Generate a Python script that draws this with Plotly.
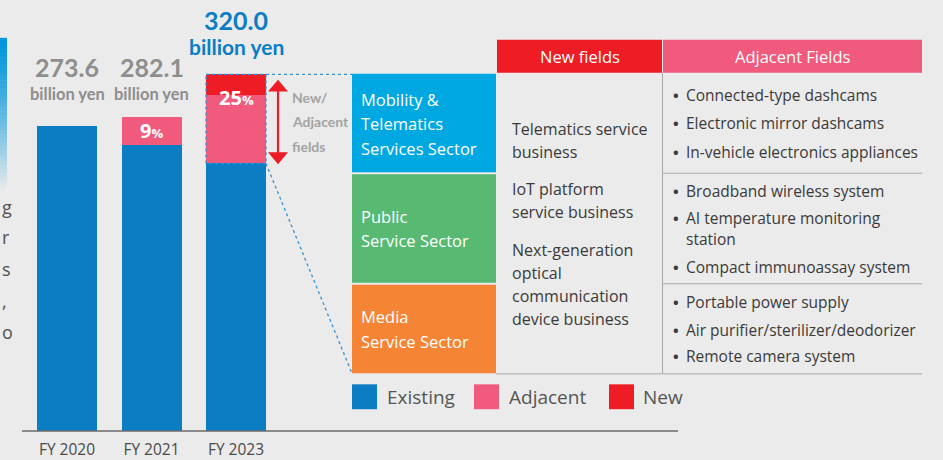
import plotly.graph_objects as go

# ---------------- data ----------------
years = ["FY 2020", "FY 2021", "FY 2023"]
existing = [273.6, 256.7, 240.0]
adjacent = [0.0, 25.4, 61.0]
new = [0.0, 0.0, 19.0]
totals = ["273.6", "282.1", "320.0"]
pct_labels = ["", "9", "25"]

sectors = [["Mobility &", "Telematics", "Services Sector"],
           ["Public", "Service Sector"],
           ["Media", "Service Sector"]]
new_fields = [["Telematics service", "business"],
              ["IoT platform", "service business"],
              ["Next-generation", "optical", "communication", "device business"]]
adjacent_fields = [["Connected-type dashcams", "Electronic mirror dashcams", "In-vehicle electronics appliances"],
                   ["Broadband wireless system", "AI temperature monitoring|station", "Compact immunoassay system"],
                   ["Portable power supply", "Air purifier/sterilizer/deodorizer", "Remote camera system"]]
legend_names = ["Existing", "Adjacent", "New"]

# ---------------- style ----------------
W, H = 943, 460
BG = "#ebebeb"
C_EX = "#0a7dc3"
C_ADJ = "#f05a7c"
C_NEW = "#ee1d25"
C_MOB = "#00a8e1"
C_PUB = "#58b973"
C_MED = "#f58535"
GREY = "#8e8e8e"
TXT = "#3a3a3a"
LINE = "#a8a8a8"
FONT = "Lato, sans-serif"
FONT2 = "Open Sans, sans-serif"

def px(x):
    return x / W

def py(y):
    return 1 - y / H

# axis geometry (pixels)
BASE_Y = 433.0
PX_PER_UNIT = 1.12
X0_PX, STEP_PX = 67.0, 84.5
BAR_W = 0.71

def dx2px(x):
    return X0_PX + x * STEP_PX

def dy2px(v):
    return BASE_Y - v * PX_PER_UNIT

xs = list(range(len(years)))
fig = go.Figure()
fig.add_bar(x=xs, y=existing, marker_color=C_EX, width=BAR_W, name=legend_names[0], marker_line_width=0)
fig.add_bar(x=xs, y=adjacent, marker_color=C_ADJ, width=BAR_W, name=legend_names[1], marker_line_width=0)
fig.add_bar(x=xs, y=new, marker_color=C_NEW, width=BAR_W, name=legend_names[2], marker_line_width=0)

shapes = []
ann = []

def text(x, y, s, size=16, color=TXT, xanchor="left", family=FONT2, xref="paper"):
    ann.append(dict(x=(x if xref != "paper" else px(x)), y=py(y), xref=xref, yref="paper", text=s,
                    showarrow=False, xanchor=xanchor, yanchor="middle",
                    font=dict(size=size, color=color, family=family)))

def rect(x0, y0, x1, y1, color):
    shapes.append(dict(type="rect", xref="paper", yref="paper", x0=px(x0), x1=px(x1),
                       y0=py(y1), y1=py(y0), fillcolor=color, line=dict(width=0), layer="below"))

def line(x0, y0, x1, y1, color=LINE, width=1, dash="solid"):
    shapes.append(dict(type="line", xref="paper", yref="paper", x0=px(x0), x1=px(x1),
                       y0=py(y0), y1=py(y1), line=dict(color=color, width=width, dash=dash)))

# left cropped gradient bar
n = 40
top, bot = 38, 193
for i in range(n):
    t = i / (n - 1)
    r = int(0 + (235 - 0) * t ** 1.3)
    g = int(150 + (235 - 150) * t ** 1.3)
    b = int(220 + (235 - 220) * t ** 1.3)
    rect(0, top + (bot - top) * i / n, 7, top + (bot - top) * (i + 1) / n + 0.5, f"rgb({r},{g},{b})")

# left cropped paragraph fragments
for ch, yy in zip(["g", "r", "s", ",", "o"], [208, 238, 270, 302, 333]):
    text(0, yy, ch, size=18, color="#505050", xanchor="left")

# baseline
line(22, BASE_Y, 678, BASE_Y, color="#6b6b6b", width=1.5)

# value labels
for i, t in enumerate(totals):
    if i < 2:
        text(i, 67, f"<b>{t}</b>", size=25, color=GREY, xanchor="center", family=FONT, xref="x")
        text(i, 94, "<b>billion yen</b>", size=16.5, color=GREY, xanchor="center", family=FONT, xref="x")
    else:
        text(i, 20, f"<b>{t}</b>", size=25, color=C_EX, xanchor="center", family=FONT, xref="x")
        text(i, 47, "<b>billion yen</b>", size=21, color=C_EX, xanchor="center", family=FONT, xref="x")

# percentage labels
for i, p in enumerate(pct_labels):
    if not p:
        continue
    if i == 1:
        yy = dy2px(existing[i] + adjacent[i] / 2)
    else:
        yy = dy2px(existing[i] + adjacent[i]) + 2
    text(i, yy, f"<b>{p}<span style='font-size:13px'>%</span></b>", size=20, color="white",
         xanchor="center", family=FONT2, xref="x")

# dotted outline of FY2023 new/adjacent part
bx0 = dx2px(2 - BAR_W / 2)
bx1 = dx2px(2 + BAR_W / 2)
by_top = dy2px(existing[2] + adjacent[2] + new[2])
by_bot = dy2px(existing[2])
DOT = "#3593d6"
for (a, b, c, d) in [(bx0, by_top, bx1, by_top), (bx1, by_top, bx1, by_bot),
                     (bx1, by_bot, bx0, by_bot), (bx0, by_bot, bx0, by_top)]:
    line(a, b, c, d, color=DOT, width=1.3, dash="dot")
line(bx1, by_top, 352, by_top, color=DOT, width=1.3, dash="dot")
line(bx1, by_bot, 352, 375, color=DOT, width=1.3, dash="dot")

# red double arrow
AX = 278
line(AX, 88, AX, 157, color=C_NEW, width=2.2)
shapes.append(dict(type="path", xref="paper", yref="paper",
                   path=f"M {px(AX)} {py(80)} L {px(AX-10)} {py(92)} L {px(AX+10)} {py(92)} Z",
                   fillcolor=C_NEW, line=dict(width=0)))
shapes.append(dict(type="path", xref="paper", yref="paper",
                   path=f"M {px(AX)} {py(165)} L {px(AX-10)} {py(153)} L {px(AX+10)} {py(153)} Z",
                   fillcolor=C_NEW, line=dict(width=0)))
for s, yy in zip(["<b>New/</b>", "<b>Adjacent</b>", "<b>fields</b>"], [98, 122, 147]):
    text(290, yy, s, size=14, color="#a3a3a3", family=FONT)

# sector boxes
box_rows = [(74, 173, C_MOB), (175, 284, C_PUB), (286, 375, C_MED)]
for (y0, y1, c) in box_rows:
    rect(352, y0, 496, y1, c)
sector_ys = [[100, 124, 149], [217, 242], [318, 343]]
for lines_, ys in zip(sectors, sector_ys):
    for s, yy in zip(lines_, ys):
        text(359, yy, s, size=16.5, color="white")

# table headers
rect(497, 40, 662, 73, C_NEW)
rect(663, 40, 922, 73, C_ADJ)
text(579.5, 57, "New fields", size=16.5, color="white", xanchor="center")
text(792.5, 57, "Adjacent Fields", size=16.5, color="white", xanchor="center")

# table lines
line(662.5, 73, 662.5, 375)
line(662, 174, 922, 174)
line(662, 285, 922, 285)
line(496, 375.5, 922, 375.5)

# new fields text
nf_ys = [[130, 153], [190, 213], [251, 274, 297, 320]]
for lines_, ys in zip(new_fields, nf_ys):
    for s, yy in zip(lines_, ys):
        text(510, yy, s, size=16)

# adjacent fields text
af_ys = [[95, 124, 153], [192, 219, 268], [303, 331, 358]]
for items, ys in zip(adjacent_fields, af_ys):
    for s, yy in zip(items, ys):
        parts = s.split("|")
        text(671, yy, "<b>•</b>", size=15)
        text(684, yy, parts[0], size=15.5)
        if len(parts) > 1:
            text(684, yy + 21, parts[1], size=15.5)

# manual legend
leg = [(352, C_EX, 385), (474, C_ADJ, 507), (609, C_NEW, 641)]
for (x0, c, tx), name in zip(leg, legend_names):
    rect(x0, 386, x0 + 25, 411, c)
    text(tx, 399, name, size=19, color="#555555")

fig.update_layout(
    width=W, height=H,
    margin=dict(l=0, r=0, t=0, b=0),
    paper_bgcolor=BG, plot_bgcolor=BG,
    barmode="stack", showlegend=False,
    shapes=shapes, annotations=ann,
    xaxis=dict(domain=[px(X0_PX - 0.5 * STEP_PX), px(X0_PX + 2.5 * STEP_PX)],
               range=[-0.5, 2.5], tickvals=xs, ticktext=years,
               showgrid=False, zeroline=False, showline=False, ticks="",
               tickfont=dict(size=15.5, color="#4a4a4a", family=FONT2), ticklabelstandoff=7),
    yaxis=dict(domain=[py(BASE_Y), 1], range=[0, BASE_Y / PX_PER_UNIT], visible=False),
)

fig.write_html("out.html", config={"displayModeBar": False},
               post_script="document.body.style.margin='0';document.body.style.overflow='hidden';")
